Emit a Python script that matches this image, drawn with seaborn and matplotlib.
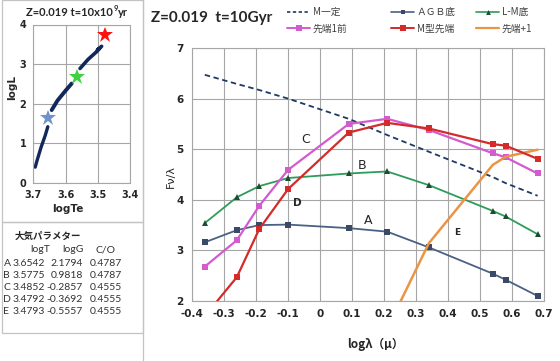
import numpy as np
import pandas as pd
import matplotlib
matplotlib.use("Agg")
import matplotlib.pyplot as plt
from matplotlib.lines import Line2D
from matplotlib.patches import Rectangle
import seaborn as sns

# ---------------- data ----------------
loglam = [-0.36, -0.26, -0.19, -0.10, 0.09, 0.21, 0.34, 0.54, 0.58, 0.68]
m_const = [6.47, 6.29, 6.17, 6.00, 5.60, 5.28, 4.95, 4.45, 4.33, 4.08]
agb_bottom = [3.16, 3.40, 3.50, 3.51, 3.44, 3.37, 3.06, 2.54, 2.42, 2.10]
lm_bottom = [3.54, 4.05, 4.27, 4.43, 4.52, 4.56, 4.29, 3.78, 3.67, 3.32]
tip_before = [2.68, 3.20, 3.88, 4.59, 5.50, 5.60, 5.38, 4.92, 4.84, 4.52]
m_tip = [1.70, 2.47, 3.42, 4.21, 5.33, 5.52, 5.41, 5.10, 5.07, 4.81]
tip_plus_x = [0.21, 0.34, 0.54, 0.58, 0.68]
tip_plus = [1.45, 3.14, 4.69, 4.85, 4.99]

# HR track
track1_te = [3.694, 3.689, 3.676, 3.663, 3.655]
track1_l = [0.40, 0.55, 0.90, 1.20, 1.42]
track2_te = [3.643, 3.625, 3.600, 3.581]
track2_l = [1.84, 2.08, 2.33, 2.51]
track3_te = [3.555, 3.530, 3.504, 3.494, 3.501, 3.488]
track3_l = [2.89, 3.12, 3.31, 3.40, 3.36, 3.45]
star_te = [3.655, 3.565, 3.478]
star_l = [1.65, 2.68, 3.73]
star_colors = ["#6f93c9", "#3fd23f", "#ff1010"]

# table
tbl_rows = ["A", "B", "C", "D", "E"]
tbl_logT = ["3.6542", "3.5775", "3.4852", "3.4792", "3.4793"]
tbl_logG = ["2.1794", "0.9818", "-0.2857", "-0.3692", "-0.5557"]
tbl_CO = ["0.4787", "0.4787", "0.4555", "0.4555", "0.4555"]

xticks = [-0.4, -0.3, -0.2, -0.1, 0.0, 0.1, 0.2, 0.3, 0.4, 0.5, 0.6, 0.7]
xticklabels = ["-0.4", "-0.3", "-0.2", "-0.1", "0", "0.1", "0.2", "0.3", "0.4", "0.5", "0.6", "0.7"]

# ---------------- figure ----------------
sns.set_theme(style="white")
plt.rcParams['font.family'] = ['DejaVu Sans', 'Noto Sans CJK JP']
W, H = 560, 361
fig = plt.figure(figsize=(W / 100, H / 100), dpi=100)
fig.patch.set_facecolor("white")

def fx(px):
    return px / W

def fy(py):
    return 1 - py / H

CJK = ['Noto Sans CJK JP', 'DejaVu Sans']
LATO = ['Lato', 'DejaVu Sans']
grid_c = "#a6a6a6"
txt_c = "#262626"

# ---------------- main axes ----------------
ax = fig.add_axes([fx(192), fy(301), (544 - 192) / W, (301 - 48) / H])
colors = {"M一定": "#1f3864", "AGB": "#4a6185", "LM": "#2e9b5a",
          "tip1": "#d45ad0", "Mtip": "#d42a2a", "tipp": "#ec9446"}

sns.lineplot(x=loglam, y=m_const, ax=ax, color=colors["M一定"], lw=1.3,
             linestyle=(0, (3, 2)), zorder=3)
sns.lineplot(x=loglam, y=agb_bottom, ax=ax, color=colors["AGB"], lw=1.3,
             marker="s", markersize=4, markeredgewidth=0,
             markerfacecolor="#3a4a66", zorder=3)
sns.lineplot(x=loglam, y=lm_bottom, ax=ax, color=colors["LM"], lw=1.3,
             marker="^", markersize=4.5, markeredgewidth=0,
             markerfacecolor="#1d4d30", zorder=3)
sns.lineplot(x=loglam, y=tip_before, ax=ax, color=colors["tip1"], lw=1.6,
             marker="s", markersize=5, markeredgewidth=0, zorder=4)
sns.lineplot(x=loglam, y=m_tip, ax=ax, color=colors["Mtip"], lw=1.6,
             marker="s", markersize=5, markeredgewidth=0, zorder=5)
sns.lineplot(x=tip_plus_x, y=tip_plus, ax=ax, color=colors["tipp"], lw=1.8, zorder=4)

ax.set_xlim(-0.4, 0.7)
ax.set_ylim(2, 7)
ax.set_xticks(xticks)
ax.set_xticklabels(xticklabels)
ax.set_yticks([2, 3, 4, 5, 6, 7])
ax.grid(True, color=grid_c, lw=0.8)
ax.tick_params(length=0, labelsize=7.5, pad=6, colors=txt_c)
for lab in ax.get_xticklabels() + ax.get_yticklabels():
    lab.set_fontweight("bold")
for s in ax.spines.values():
    s.set_color(grid_c)
    s.set_linewidth(0.8)
ax.set_xlabel("")
ax.set_ylabel("")

# curve letters
ax.text(-0.045, 5.2, "C", fontsize=9, color=txt_c, ha="center", va="center")
ax.text(0.13, 4.67, "B", fontsize=9, color=txt_c, ha="center", va="center")
ax.text(0.15, 3.60, "A", fontsize=9, color=txt_c, ha="center", va="center")
ax.text(-0.072, 3.94, "D", fontsize=7.5, fontweight="bold", color=txt_c, ha="center", va="center")
ax.text(0.428, 3.36, "E", fontsize=6.5, fontweight="bold", color=txt_c, ha="center", va="center")

fig.text(fx(171), fy(176), "Fν/λ", rotation=90, ha="center", va="center",
         fontsize=8, color=txt_c)
fig.text(fx(375), fy(344), "logλ（μ）", ha="center", va="center",
         fontsize=8.5, fontweight="bold", color=txt_c, family=CJK)
fig.text(fx(151), fy(18), "Z=0.019  t=10Gyr", ha="left", va="center",
         fontsize=11, fontweight="bold", color=txt_c, family=LATO)

# legend: three columns placed individually
def mk(c, lw, ls="-", marker=None, ms=4, mfc=None):
    return Line2D([], [], color=c, lw=lw, linestyle=ls, marker=marker, markersize=ms,
                  markeredgewidth=0, markerfacecolor=mfc if mfc else c)

leg_cols = [
    (285, [mk(colors["M一定"], 1.2, (0, (2, 1.5))), mk(colors["tip1"], 1.4, marker="s")],
     ["M一定", "先端1前"]),
    (389, [mk(colors["AGB"], 1.2, marker="s", ms=3.5, mfc="#3a4a66"), mk(colors["Mtip"], 1.4, marker="s")],
     ["ＡＧＢ底", "M型先端"]),
    (474, [mk(colors["LM"], 1.2, marker="^", ms=3.5, mfc="#1d4d30"), mk(colors["tipp"], 1.6)],
     ["L-M底", "先端+1"]),
]
for xpx, hs, ls in leg_cols:
    lg = fig.legend(hs, ls, loc="upper left", bbox_to_anchor=(fx(xpx), fy(5)),
                    frameon=False, prop={"family": CJK, "size": 7},
                    handlelength=2.4, handletextpad=0.25, labelspacing=0.7,
                    borderaxespad=0, borderpad=0.2)
    for t in lg.get_texts():
        t.set_color("#404040")

# ---------------- HR inset ----------------
ax2 = fig.add_axes([fx(33.3), fy(183), (130 - 33.3) / W, (183 - 24.5) / H])
sns.lineplot(x=track1_te, y=track1_l, ax=ax2, color="#12275a", lw=2.4, sort=False)
sns.lineplot(x=track2_te, y=track2_l, ax=ax2, color="#12275a", lw=2.8, sort=False)
sns.lineplot(x=track3_te, y=track3_l, ax=ax2, color="#12275a", lw=2.6, sort=False)
for te, lL, c in zip(star_te, star_l, star_colors):
    ax2.plot([te], [lL], marker="*", markersize=12, color=c, markeredgewidth=0, zorder=5)
ax2.set_xlim(3.7, 3.4)
ax2.set_ylim(0, 4)
ax2.set_xticks([3.7, 3.6, 3.5, 3.4])
ax2.set_xticklabels(["3.7", "3.6", "3.5", "3.4"])
ax2.set_yticks([0, 1, 2, 3, 4])
ax2.grid(True, color=grid_c, lw=0.8)
ax2.tick_params(length=0, labelsize=7, pad=5, colors=txt_c)
for lab in ax2.get_xticklabels() + ax2.get_yticklabels():
    lab.set_fontweight("bold")
for s in ax2.spines.values():
    s.set_color(grid_c)
    s.set_linewidth(0.8)
ax2.set_xlabel("")
ax2.set_ylabel("")
fig.text(fx(12.5), fy(88), "logL", rotation=90, ha="center", va="center",
         fontsize=7.5, fontweight="bold", color=txt_c)
fig.text(fx(68), fy(209), "logTe", ha="center", va="center",
         fontsize=7.5, fontweight="bold", color=txt_c)
fig.text(fx(113), fy(12), "Z=0.019 t=10x10", ha="right", va="center",
         fontsize=8, fontweight="bold", color=txt_c, family=LATO)
fig.text(fx(113.5), fy(8.5), "9", ha="left", va="center",
         fontsize=5.5, fontweight="bold", color=txt_c, family=LATO)
fig.text(fx(117.5), fy(12), "yr", ha="left", va="center",
         fontsize=8, fontweight="bold", color=txt_c, family=LATO)

# ---------------- table ----------------
tc = "#333333"
fs_t = 7.5
fig.text(fx(15), fy(236), "大気パラメター", ha="left", va="center",
         fontsize=6.8, color=txt_c, family=CJK, fontweight="bold")
hdr_y = 250
fig.text(fx(40), fy(hdr_y), "logT", ha="center", va="center", fontsize=fs_t, color=tc, family=LATO)
fig.text(fx(73), fy(hdr_y), "logG", ha="center", va="center", fontsize=fs_t, color=tc, family=LATO)
fig.text(fx(106), fy(hdr_y), "C/O", ha="center", va="center", fontsize=fs_t, color=tc, family=LATO)
for i, (r, t, g, c) in enumerate(zip(tbl_rows, tbl_logT, tbl_logG, tbl_CO)):
    yy = 264 + i * 11.8
    fig.text(fx(3.5), fy(yy), r, ha="left", va="center", fontsize=fs_t, color=tc, family=LATO)
    fig.text(fx(45), fy(yy), t, ha="right", va="center", fontsize=fs_t, color=tc, family=LATO)
    fig.text(fx(83), fy(yy), g, ha="right", va="center", fontsize=fs_t, color=tc, family=LATO)
    fig.text(fx(122), fy(yy), c, ha="right", va="center", fontsize=fs_t, color=tc, family=LATO)

# panel frames
box_c = "#c3c3c3"
fig.add_artist(Rectangle((fx(2), fy(221.7)), (143 - 2) / W, 221.7 / H, transform=fig.transFigure,
                         fill=False, edgecolor=box_c, lw=0.9))
fig.add_artist(Rectangle((fx(2), fy(333)), (143 - 2) / W, (333 - 221.7) / H, transform=fig.transFigure,
                         fill=False, edgecolor=box_c, lw=0.9))
fig.add_artist(Line2D([fx(143), fx(143)], [0, 1], transform=fig.transFigure, color=box_c, lw=0.9))

fig.savefig("out.png", dpi=100)
